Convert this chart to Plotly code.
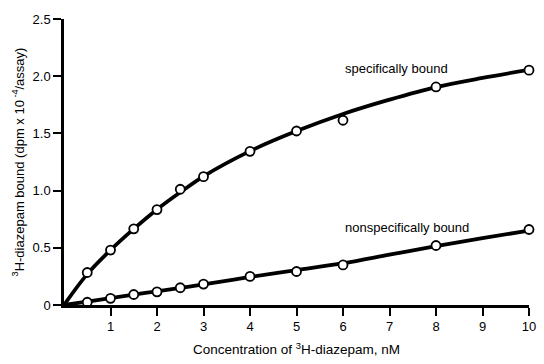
import plotly.graph_objects as go

# Measured points
conc = [0.5, 1, 1.5, 2, 2.5, 3, 4, 5, 6, 8, 10]
specific = [0.284, 0.48, 0.666, 0.834, 1.012, 1.122, 1.343, 1.521, 1.615, 1.906, 2.053]
nonspecific = [0.024, 0.058, 0.092, 0.115, 0.151, 0.183, 0.25, 0.293, 0.35, 0.52, 0.66]

# Fitted curves
fit_x = [0, 0.5, 1, 1.5, 2, 2.5, 3, 4, 5, 6, 7, 8, 9, 10]
fit_specific = [0, 0.27, 0.48, 0.665, 0.835, 0.985, 1.125, 1.345, 1.52, 1.67, 1.795, 1.905, 1.985, 2.055]
fit_nonspecific = [0, 0.03, 0.06, 0.09, 0.12, 0.15, 0.18, 0.245, 0.305, 0.365, 0.44, 0.515, 0.585, 0.65]

x_ticks = [1, 2, 3, 4, 5, 6, 7, 8, 9, 10]
y_ticks = [0, 0.5, 1.0, 1.5, 2.0, 2.5]
y_tick_labels = ["0", "0.5", "1.0", "1.5", "2.0", "2.5"]

FONT = "Liberation Sans, Arial, sans-serif"

fig = go.Figure()
for fy in (fit_specific, fit_nonspecific):
    fig.add_trace(go.Scatter(x=fit_x, y=fy, mode="lines", line=dict(color="black", width=3.8, shape="spline"),
                             showlegend=False, hoverinfo="skip", cliponaxis=False))
for py in (specific, nonspecific):
    fig.add_trace(go.Scatter(x=conc, y=py, mode="markers", cliponaxis=False,
                             marker=dict(symbol="circle", size=9, color="white", line=dict(color="black", width=1.8)),
                             showlegend=False))

fig.add_annotation(x=7.15, y=2.07, text="specifically bound", showarrow=False,
                   font=dict(family=FONT, size=13, color="black"))
fig.add_annotation(x=7.38, y=0.68, text="nonspecifically bound", showarrow=False,
                   font=dict(family=FONT, size=13, color="black"))

fig.update_layout(
    width=544, height=364,
    margin=dict(l=64, r=8, t=19, b=50),
    paper_bgcolor="white", plot_bgcolor="white",
    font=dict(family=FONT, size=13, color="black"),
    xaxis=dict(range=[0, 10], tickvals=x_ticks, ticks="outside", ticklen=8, tickwidth=2, tickcolor="black",
               showline=True, linecolor="black", linewidth=2.5, showgrid=False, zeroline=False,
               title=dict(text="Concentration of <sup>3</sup>H-diazepam, nM", font=dict(size=13.5), standoff=12),
               tickfont=dict(size=13)),
    yaxis=dict(range=[0, 2.5], tickvals=y_ticks, ticktext=y_tick_labels, ticks="outside", ticklen=8, tickwidth=2,
               tickcolor="black", showline=True, linecolor="black", linewidth=2.5, showgrid=False, zeroline=False,
               title=dict(text="<sup>3</sup>H-diazepam bound (dpm x 10<sup> -4</sup>/assay)", font=dict(size=13), standoff=6),
               tickfont=dict(size=13)),
)

fig.write_html("out.html")
